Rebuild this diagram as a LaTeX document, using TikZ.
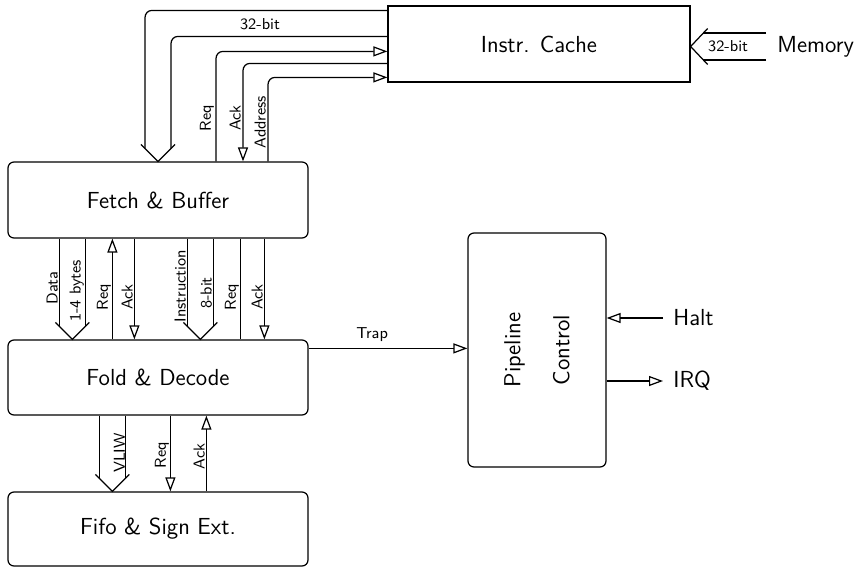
\documentclass[tikz,border=0pt]{standalone}
\usetikzlibrary{arrows.meta,positioning,calc}
\renewcommand{\familydefault}{\sfdefault}

\begin{document}
\begin{tikzpicture}[
  every node/.style={font=\fontsize{13.2}{16}\selectfont},
  block/.style={draw, line width=0.7pt, rounded corners=0.12cm, minimum width=6cm, minimum height=1.52cm, align=center},
  wire/.style={line width=0.7pt},
  sig/.style={wire, -{Triangle[open, length=0.28cm, width=0.2cm]}},
  lbl/.style={font=\small, rotate=90, anchor=south, inner sep=1pt},
  ext/.style={anchor=west, inner xsep=0.2cm}
]
\useasboundingbox (0,0) rectangle (17.1,-11.34);

\node[block, sharp corners, minimum width=6.04cm] (cache) at (10.78,-0.88) {Instr. Cache};
\node[block] (fetch) at (3.16,-4.0) {Fetch \& Buffer};
\node[block, minimum height=1.5cm] (fold) at (3.16,-7.55) {Fold \& Decode};
\node[block, minimum height=1.48cm] (fifo) at (3.16,-10.58) {Fifo \& Sign Ext.};
\node[block, minimum width=2.76cm, minimum height=4.68cm] (pipe) at (10.74,-7.0) {};
\node[rotate=90, align=center] (pipetext) at (pipe.center) {Pipeline\\[0.42cm]Control};

\node[ext, inner xsep=0.22cm] (mem) at (15.32,-0.93) {Memory};
\node[ext] (halt) at (13.26,-6.36) {Halt};
\node[ext] (irq) at (13.26,-7.62) {IRQ};

% bus tips
\coordinate (memtip) at (cache.east |- mem);
\coordinate (cachetip) at (fetch.north);
\coordinate (datatip) at ($(fold.north west)+(1.30,0)$);
\coordinate (instrtip) at ($(fold.north west)+(3.86,0)$);
\coordinate (vliwtip) at ($(fifo.north west)+(2.10,0)$);

% memory -> cache
\draw[wire] ($(mem.west)+(0,0.27)$) -- ($(memtip)+(0.255,0.27)$);
\draw[wire] ($(mem.west)+(0,-0.27)$) -- ($(memtip)+(0.255,-0.27)$);
\draw[wire] ($(memtip)+(0.34,0.36)$) -- (memtip) -- ($(memtip)+(0.34,-0.36)$);
\node[font=\small] (membits) at ($(memtip)+(0.75,0)$) {32-bit};

% cache <-> fetch
\draw[wire, rounded corners=4pt] ($(cache.north west)+(0,-0.10)$) -| ($(cachetip)+(-0.26,0.26)$);
\draw[wire, rounded corners=4pt] ($(cache.north west)+(0,-0.62)$) -| ($(cachetip)+(0.26,0.26)$);
\node[font=\small] (topbits) at (5.2,-0.48) {32-bit};
\draw[sig, rounded corners=4pt] ($(fetch.north)+(1.16,0)$) |- ($(cache.north west)+(0,-0.92)$);
\draw[sig, rounded corners=4pt] ($(cache.north west)+(0,-1.16)$) -| ($(fetch.north)+(1.70,0)$);
\draw[sig, rounded corners=4pt] ($(fetch.north)+(2.20,0)$) |- ($(cache.north west)+(0,-1.44)$);
\node[lbl] at (4.32,-2.36) {Req};
\node[lbl] at (4.86,-2.36) {Ack};
\node[lbl] at (5.36,-2.44) {Address};

% buses
\foreach \tip/\src in {datatip/fetch, instrtip/fetch, vliwtip/fold} {
  \draw[wire] (\src.south -| \tip) ++(-0.26,0) -- ($(\tip)+(-0.26,0.26)$);
  \draw[wire] (\src.south -| \tip) ++(0.26,0) -- ($(\tip)+(0.26,0.26)$);
}
\foreach \tip in {cachetip, datatip, instrtip, vliwtip}
  \draw[wire] ($(\tip)+(-0.34,0.34)$) -- (\tip) -- ($(\tip)+(0.34,0.34)$);

% fetch <-> fold
\draw[sig] ($(fold.north west)+(2.10,0)$) -- ($(fetch.south west)+(2.10,0)$);
\draw[sig] ($(fetch.south west)+(2.54,0)$) -- ($(fold.north west)+(2.54,0)$);
\draw[wire] ($(fetch.south west)+(4.66,0)$) -- ($(fold.north west)+(4.66,0)$);
\draw[sig] ($(fetch.south west)+(5.14,0)$) -- ($(fold.north west)+(5.14,0)$);
\node[lbl] at (1.20,-5.76) {Data};
\node[lbl] at (1.72,-5.82) {1-4 bytes};
\node[lbl] at (2.26,-5.94) {Req};
\node[lbl] at (2.70,-5.94) {Ack};
\node[lbl] at (3.76,-5.72) {Instruction};
\node[lbl] at (4.28,-5.86) {8-bit};
\node[lbl] at (4.82,-5.94) {Req};
\node[lbl] at (5.30,-5.94) {Ack};

% fold <-> fifo
\draw[sig] ($(fold.south west)+(3.26,0)$) -- ($(fifo.north west)+(3.26,0)$);
\draw[sig] ($(fifo.north west)+(3.98,0)$) -- ($(fold.south west)+(3.98,0)$);
\node[lbl] at (2.54,-9.06) {VLIW};
\node[lbl] at (3.42,-9.10) {Req};
\node[lbl] at (4.14,-9.13) {Ack};

% pipeline control
\coordinate (trapfrom) at ($(fold.north east)+(0,-0.18)$);
\draw[sig] (trapfrom) -- (trapfrom -| pipe.west) node[pos=0.4, above, font=\small] {Trap};
\draw[sig] (halt.west) -- (halt.west -| pipe.east);
\draw[sig] (irq.west -| pipe.east) -- (irq.west);
\end{tikzpicture}
\end{document}
